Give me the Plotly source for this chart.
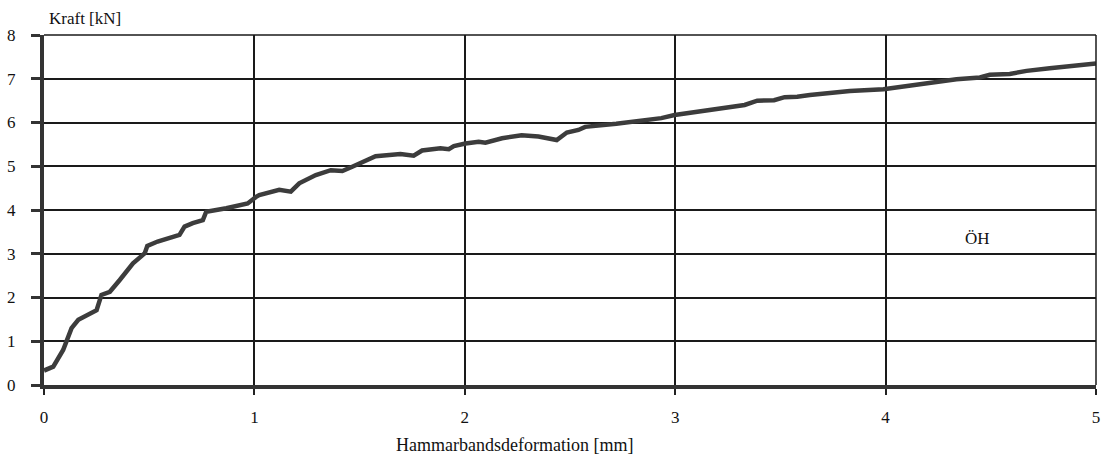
import plotly.graph_objects as go

# Hammarband test: force vs deformation
deformation_mm = [
    0.000, 0.044, 0.091, 0.131, 0.163, 0.210, 0.250, 0.273, 0.313, 0.360,
    0.423, 0.479, 0.491, 0.540, 0.644, 0.668, 0.707, 0.755, 0.771, 0.866,
    0.968, 1.008, 1.023, 1.118, 1.173, 1.213, 1.292, 1.363, 1.418, 1.465,
    1.576, 1.694, 1.757, 1.797, 1.884, 1.924, 1.948, 2.003, 2.066, 2.098,
    2.177, 2.270, 2.350, 2.437, 2.485, 2.540, 2.572, 2.720, 2.823, 2.934,
    2.997, 3.110, 3.270, 3.330, 3.390, 3.470, 3.520, 3.580, 3.640, 3.830,
    3.990, 4.085, 4.195, 4.337, 4.448, 4.495, 4.590, 4.670, 4.780, 4.875,
    4.960, 5.000,
]
force_kN = [
    0.33, 0.42, 0.80, 1.30, 1.49, 1.60, 1.71, 2.06, 2.13, 2.40,
    2.78, 3.01, 3.18, 3.28, 3.43, 3.62, 3.70, 3.77, 3.96, 4.04,
    4.15, 4.30, 4.34, 4.46, 4.42, 4.61, 4.80, 4.91, 4.89, 4.99,
    5.23, 5.28, 5.24, 5.36, 5.41, 5.39, 5.46, 5.52, 5.56, 5.54,
    5.64, 5.71, 5.68, 5.60, 5.77, 5.83, 5.90, 5.97, 6.04, 6.10,
    6.17, 6.25, 6.38, 6.40, 6.50, 6.51, 6.58, 6.59, 6.63, 6.72,
    6.76, 6.82, 6.91, 6.99, 7.03, 7.09, 7.11, 7.18, 7.24, 7.29,
    7.35, 7.35,
]

x_ticks = [0, 1, 2, 3, 4, 5]
y_ticks = [0, 1, 2, 3, 4, 5, 6, 7, 8]

serif = "Times New Roman, Liberation Serif, DejaVu Serif, serif"

fig = go.Figure()
fig.add_trace(go.Scatter(
    x=deformation_mm, y=force_kN, mode="lines",
    line=dict(color="#3c3c3c", width=4.5),
    showlegend=False, hoverinfo="skip",
))

fig.update_layout(
    width=1103, height=457,
    margin=dict(l=44, r=3, t=35, b=72),
    paper_bgcolor="white", plot_bgcolor="white",
    font=dict(family=serif, size=17, color="#111111"),
    xaxis=dict(
        range=[0, 5], tickvals=x_ticks, ticktext=[str(v) for v in x_ticks],
        showgrid=True, gridcolor="#1a1a1a", gridwidth=1.5,
        showline=True, linecolor="#333333", linewidth=4,
        zeroline=False, ticklabeloverflow="allow",
        ticks="outside", ticklen=6, tickwidth=2, tickcolor="#222222",
        ticklabelstandoff=8,
    ),
    yaxis=dict(
        range=[0, 8], tickvals=y_ticks, ticktext=[str(v) for v in y_ticks],
        showgrid=True, gridcolor="#1a1a1a", gridwidth=1.5,
        showline=True, linecolor="#333333", linewidth=4,
        zeroline=False, ticklabeloverflow="allow",
        ticks="outside", ticklen=9, tickwidth=3, tickcolor="#333333",
        ticklabelstandoff=12,
    ),
)

# thin frame on the top and right edges of the plotting area
frame = dict(color="#1a1a1a", width=1.5)
fig.add_shape(type="line", xref="paper", yref="paper", x0=0, x1=1, y0=1, y1=1, line=frame)
fig.add_shape(type="line", xref="paper", yref="paper", x0=1, x1=1, y0=0, y1=1, line=frame)

fig.add_annotation(
    text="Kraft [kN]", xref="paper", yref="paper", x=0.003, y=1.0,
    xanchor="left", yanchor="bottom", yshift=5, showarrow=False,
    font=dict(family=serif, size=17),
)
fig.add_annotation(
    text="Hammarbandsdeformation [mm]", xref="x", yref="paper", x=2.235, y=-0.171,
    xanchor="center", yanchor="middle", showarrow=False,
    font=dict(family=serif, size=18),
)
fig.add_annotation(
    text="ÖH", xref="x", yref="y", x=4.437, y=3.36,
    showarrow=False, font=dict(family=serif, size=17),
)

fig.write_html("out.html")
